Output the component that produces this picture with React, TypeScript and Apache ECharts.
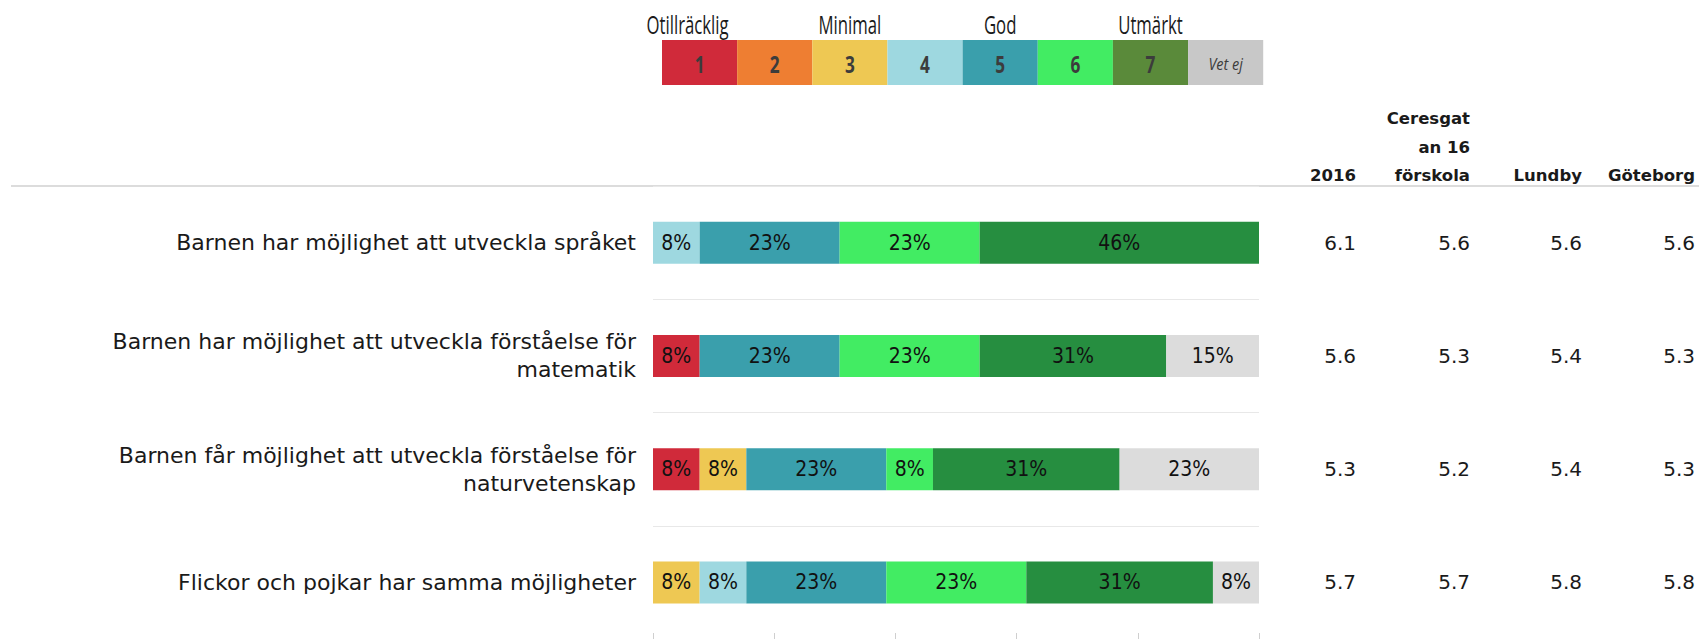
import React, { useEffect, useRef } from "react";
import * as echarts from "echarts";

const categories = [
  "Barnen har möjlighet att utveckla språket",
  "Barnen har möjlighet att utveckla förståelse för\nmatematik",
  "Barnen får möjlighet att utveckla förståelse för\nnaturvetenskap",
  "Flickor och pojkar har samma möjligheter",
];

const scaleNames = ["1", "2", "3", "4", "5", "6", "7", "Vet ej"];
const scaleTitles = ["Otillräcklig", "", "Minimal", "", "God", "", "Utmärkt", ""];

// Share of answers (%) per scale step, one value per category
const s1 = [0, 7.7, 7.7, 0];
const s2 = [0, 0, 0, 0];
const s3 = [0, 0, 7.7, 7.7];
const s4 = [7.7, 0, 0, 7.7];
const s5 = [23.1, 23.1, 23.1, 23.1];
const s6 = [23.1, 23.1, 7.7, 23.1];
const s7 = [46.2, 30.8, 30.8, 30.8];
const sVetEj = [0, 15.4, 23.1, 7.7];
const seriesValues = [s1, s2, s3, s4, s5, s6, s7, sVetEj];

// Mean values per column
const colHeaders = ["2016", "Ceresgat\nan 16\nförskola", "Lundby", "Göteborg"];
const col2016 = [6.1, 5.6, 5.3, 5.7];
const colCeres = [5.6, 5.3, 5.2, 5.7];
const colLundby = [5.6, 5.4, 5.4, 5.8];
const colGoteborg = [5.6, 5.3, 5.3, 5.8];
const columns = [col2016, colCeres, colLundby, colGoteborg];

const barColors = ["#d02a3a", "#ee7e32", "#eec853", "#9ed8e0", "#3a9fac", "#42ec63", "#268e40", "#dcdcdc"];
const legendColors = ["#d02a3a", "#ee7e32", "#eec853", "#9ed8e0", "#3a9fac", "#42ec63", "#5a8a3a", "#c8c8c8"];

const W = 1699;
const H = 639;
const GRID_LEFT = 653;
const GRID_RIGHT_X = 1259;
const colRight = [1356, 1470, 1582, 1695];

const NARROW = "'Liberation Sans Narrow', 'DejaVu Sans Condensed', 'Roboto Condensed', sans-serif";
const BODY = "'DejaVu Sans', sans-serif";
const OPEN = "'Open Sans', sans-serif";

export default function App() {
  const ref = useRef<HTMLDivElement>(null);

  useEffect(() => {
    if (!ref.current) return;
    const chart = echarts.init(ref.current, undefined, { renderer: "svg" });

    const legendX0 = 662;
    const legendW = 75.15;
    const legendY = 40;
    const legendH = 45;

    const graphics: any[] = [];
    scaleNames.forEach((n, i) => {
      graphics.push({
        type: "rect",
        shape: { x: legendX0 + i * legendW, y: legendY, width: legendW, height: legendH },
        style: { fill: legendColors[i] },
      });
      graphics.push({
        type: "text",
        x: legendX0 + i * legendW + legendW / 2,
        y: legendY + legendH / 2 + 1,
        scaleX: i === 7 ? 0.85 : 0.75,
        style: {
          text: n,
          align: "center",
          verticalAlign: "middle",
          fill: "#3c3c3c",
          font: i === 7 ? `italic 17px ${OPEN}` : `bold 23px ${OPEN}`,
        },
      });
      if (scaleTitles[i]) {
        graphics.push({
          type: "text",
          x: legendX0 + i * legendW + legendW / 2 - (i === 0 ? 12 : 0),
          y: 24,
          scaleX: 0.67,
          style: {
            text: scaleTitles[i],
            align: "center",
            verticalAlign: "middle",
            fill: "#1a1a1a",
            font: `25px ${OPEN}`,
          },
        });
      }
    });

    graphics.push({
      type: "line",
      shape: { x1: 11, y1: 186, x2: W, y2: 186 },
      style: { stroke: "#dcdcdc", lineWidth: 2 },
    });

    colHeaders.forEach((h, i) => {
      graphics.push({
        type: "text",
        x: colRight[i],
        y: 190,
        style: {
          text: h,
          align: "right",
          verticalAlign: "bottom",
          lineHeight: 28.5,
          fill: "#1a1a1a",
          font: `bold 16.5px ${BODY}`,
        },
      });
    });

    const valueAxes = columns.map((col, i) => ({
      type: "category",
      data: categories,
      inverse: true,
      position: "right",
      offset: colRight[i] - GRID_RIGHT_X,
      axisLine: { show: false },
      axisTick: { show: false },
      splitLine: { show: false },
      axisLabel: {
        inside: true,
        margin: 0,
        align: "right",
        fontFamily: BODY,
        fontSize: 20,
        color: "#1a1a1a",
        padding: [3, 0, 0, 0],
        formatter: (_v: string, idx: number) => col[idx].toFixed(1),
      },
    }));

    chart.setOption({
      animation: false,
      backgroundColor: "#ffffff",
      grid: { left: GRID_LEFT, right: W - GRID_RIGHT_X, top: 186, bottom: 0, containLabel: false },
      xAxis: {
        type: "value",
        min: 0,
        max: 100,
        interval: 20,
        axisLine: { show: false },
        axisLabel: { show: false },
        splitLine: { show: false },
        axisTick: { show: true, inside: true, length: 6, lineStyle: { color: "#cfcfcf" } },
      },
      yAxis: [
        {
          type: "category",
          data: categories,
          inverse: true,
          axisLine: { show: false },
          axisTick: { show: false },
          splitLine: { show: true, lineStyle: { color: "#e8e8e8", width: 1 } },
          axisLabel: {
            margin: 17,
            fontFamily: BODY,
            fontSize: 22,
            lineHeight: 28,
            color: "#1a1a1a",
            align: "right",
            padding: [3, 0, 0, 0],
          },
        },
        ...valueAxes,
      ],
      series: seriesValues.map((vals, i) => ({
        name: scaleNames[i],
        type: "bar",
        stack: "total",
        barWidth: 42,
        yAxisIndex: 0,
        data: vals,
        itemStyle: { color: barColors[i] },
        label: {
          show: true,
          position: "inside",
          color: "#111",
          fontFamily: NARROW,
          fontSize: 21,
          formatter: (p: any) => (p.value > 0 ? Math.round(p.value) + "%" : ""),
        },
      })),
      graphic: graphics,
    });

    return () => chart.dispose();
  }, []);

  return (
    <div
      ref={ref}
      style={{ position: "fixed", left: 0, top: 0, width: W, height: H, background: "#fff" }}
    />
  );
}
